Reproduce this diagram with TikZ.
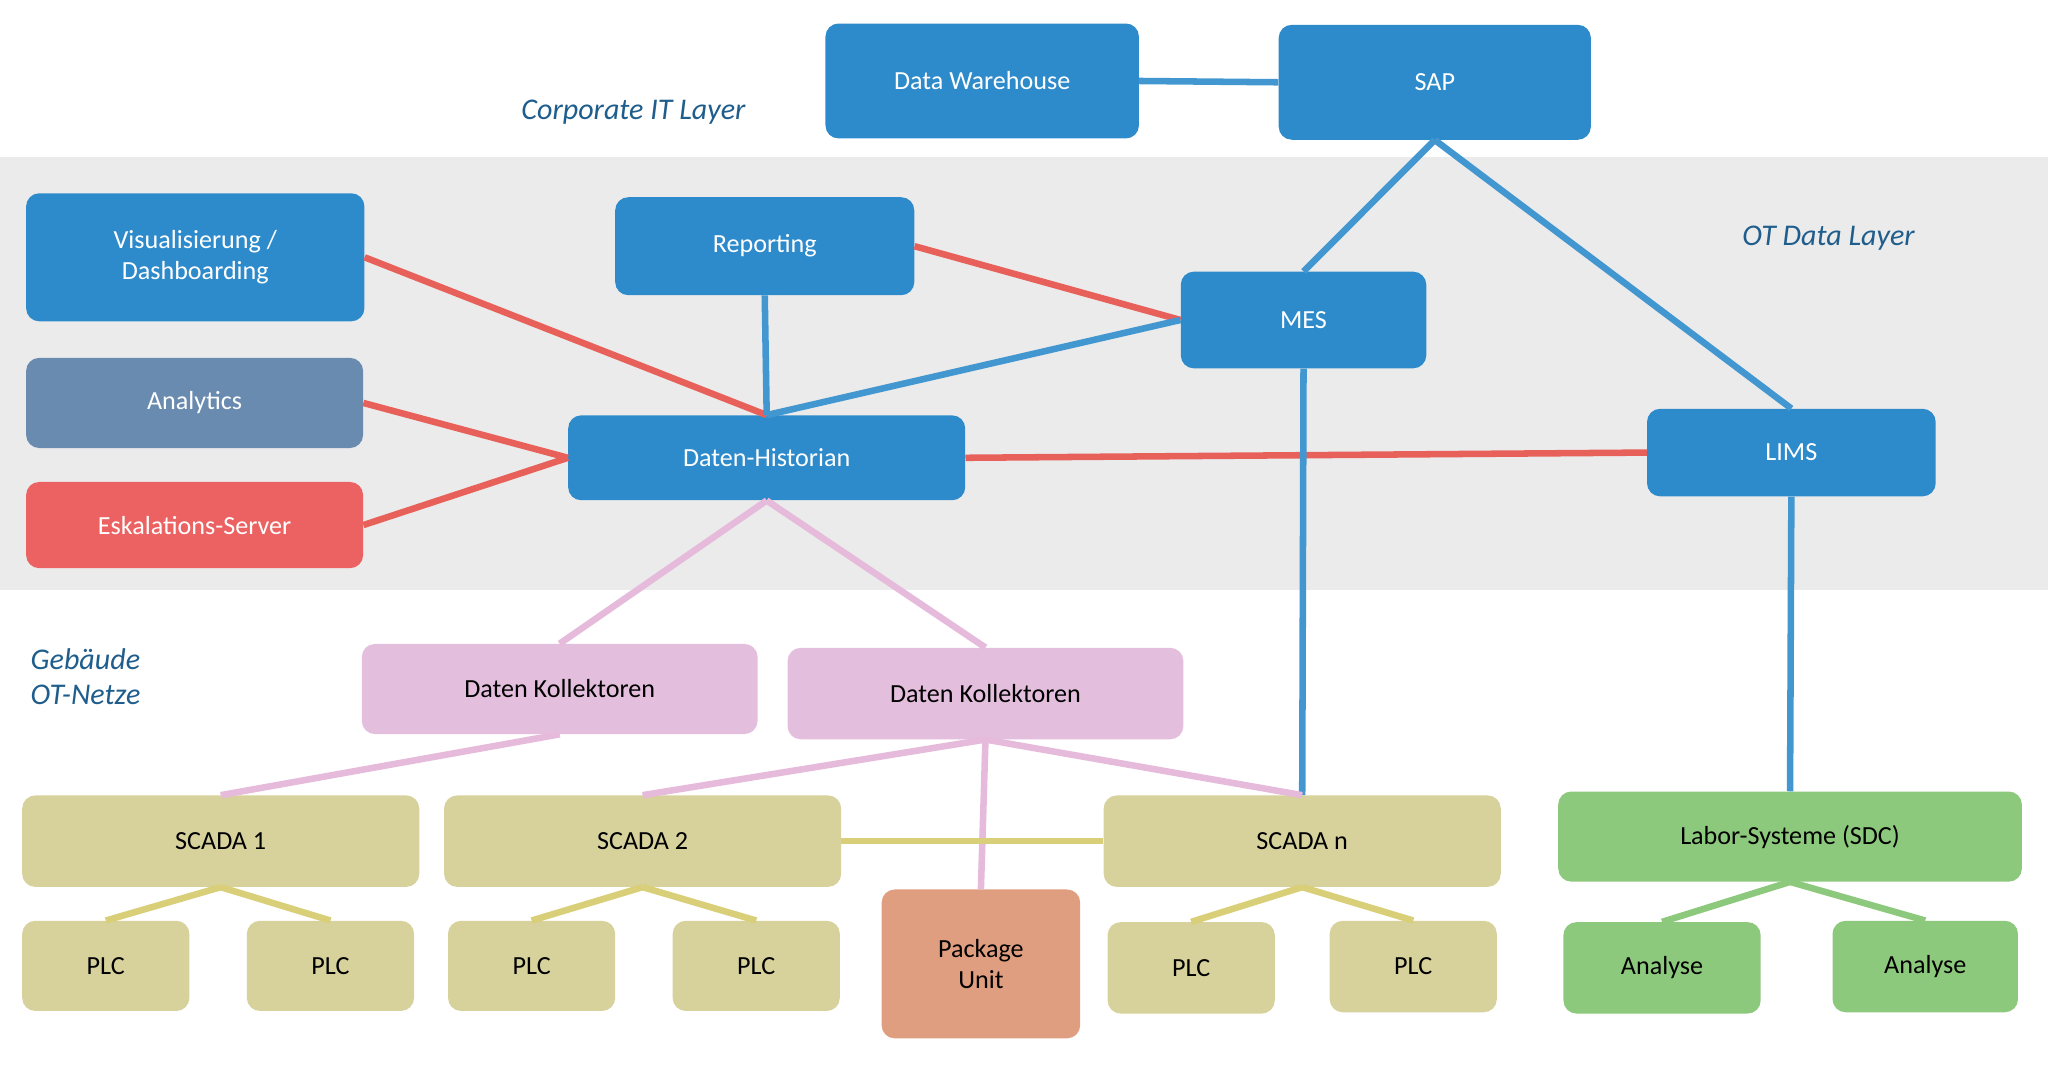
\documentclass[tikz,border=0pt]{standalone}
\usepackage{fontspec}
\setmainfont{Carlito}
\definecolor{bl}{HTML}{2E8BCB}
\definecolor{band}{HTML}{EBEBEB}
\definecolor{ana}{HTML}{6A8BB0}
\definecolor{rd}{HTML}{EC6262}
\definecolor{pk}{HTML}{E4BFDD}
\definecolor{ol}{HTML}{D7D19C}
\definecolor{pu}{HTML}{DF9E80}
\definecolor{gr}{HTML}{8DC97C}
\definecolor{lbl}{HTML}{1F5E8C}
\definecolor{lrd}{HTML}{E8605A}
\definecolor{lpk}{HTML}{E6BADB}
\definecolor{lol}{HTML}{D9CF78}
\begin{document}
\begin{tikzpicture}[x=1pt,y=-1pt,
 bx/.style={rounded corners=10pt,inner sep=0pt,font=\fontsize{20}{24}\selectfont,align=center},
 bb/.style={bx,fill=bl,text=white},
 lay/.style={text=lbl,font=\fontsize{23}{27}\selectfont\itshape,align=left},
 cb/.style={line width=5pt,bl!90!white},
 cr/.style={line width=5pt,lrd},
 cp/.style={line width=5pt,lpk},
 co/.style={line width=5pt,lol},
 cg/.style={line width=5pt,gr}]
\useasboundingbox (0,0) rectangle (1568,821);
\fill[white] (0,0) rectangle (1568,821);
\fill[band] (0,120) rectangle (1568,452);
\def\bxn#1#2#3#4#5#6#7{\node[#1,minimum width=#4-#2,minimum height=#5-#3] (#6) at ({(#2+#4)/2},{(#3+#5)/2}) {#7};}
% connectors first (drawn under boxes via layering order: nodes later)
\bxn{bb}{632}{18}{872}{106}{dw}{Data Warehouse}
\bxn{bb}{979}{19}{1218}{107}{sap}{SAP}
\bxn{bb}{20}{148}{279}{246}{vis}{Visualisierung /\\Dashboarding}
\bxn{bb}{471}{151}{700}{226}{rep}{Reporting}
\bxn{bb}{904}{208}{1092}{282}{mes}{MES}
\bxn{bx,fill=ana,text=white}{20}{274}{278}{343}{ana}{Analytics}
\bxn{bb}{435}{318}{739}{383}{his}{Daten-Historian}
\bxn{bb}{1261}{313}{1482}{380}{lims}{LIMS}
\bxn{bx,fill=rd,text=white}{20}{369}{278}{435}{esk}{Eskalations-Server}
\bxn{bx,fill=pk}{277}{493}{580}{562}{dk1}{Daten Kollektoren}
\bxn{bx,fill=pk}{603}{496}{906}{566}{dk2}{Daten Kollektoren}
\bxn{bx,fill=ol}{17}{609}{321}{679}{s1}{SCADA 1}
\bxn{bx,fill=ol}{340}{609}{644}{679}{s2}{SCADA 2}
\bxn{bx,fill=ol}{845}{609}{1149}{679}{sn}{SCADA n}
\bxn{bx,fill=gr}{1193}{606}{1548}{675}{lab}{Labor-Systeme (SDC)}
\bxn{bx,fill=ol}{17}{705}{145}{774}{p1}{PLC}
\bxn{bx,fill=ol}{189}{705}{317}{774}{p2}{PLC}
\bxn{bx,fill=ol}{343}{705}{471}{774}{p3}{PLC}
\bxn{bx,fill=ol}{515}{705}{643}{774}{p4}{PLC}
\bxn{bx,fill=ol}{848}{706}{976}{776}{p5}{PLC}
\bxn{bx,fill=ol}{1018}{705}{1146}{775}{p6}{PLC}
\bxn{bx,fill=pu}{675}{681}{827}{795}{pu}{Package\\Unit}
\bxn{bx,fill=gr}{1197}{706}{1348}{776}{a1}{Analyse}
\bxn{bx,fill=gr}{1403}{705}{1545}{775}{a2}{Analyse}
\node[lay] (l1) at (485,86) {Corporate IT Layer};
\node[lay] (l2) at (1400,182) {OT Data Layer};
\node[lay,anchor=west] (l3) at (20,518) {Gebäude\\OT-Netze};
\begin{scope}[on background layer/.style={}]
\end{scope}
% connectors
\draw[cb] (dw.east) -- (sap.west);
\draw[cb] (sap.south) -- (mes.north);
\draw[cb] (sap.south) -- (lims.north);
\draw[cr] (vis.east) -- (his.north);
\draw[cr] (rep.east) -- (mes.west);
\draw[cb] (rep.south) -- (his.north);
\draw[cb] (his.north) -- (mes.west);
\draw[cr] (ana.east) -- (his.west);
\draw[cr] (esk.east) -- (his.west);
\draw[cr] (his.east) -- (lims.west);
\draw[cb] (mes.south) -- (sn.north);
\draw[cb] (lims.south) -- (lab.north);
\draw[cp] (his.south) -- (dk1.north);
\draw[cp] (his.south) -- (dk2.north);
\draw[cp] (dk1.south) -- (s1.north);
\draw[cp] (dk2.south) -- (s2.north);
\draw[cp] (dk2.south) -- (sn.north);
\draw[cp] (dk2.south) -- (pu.north);
\draw[co] (s2.east) -- (sn.west);
\foreach \s/\a/\b in {s1/p1/p2,s2/p3/p4,sn/p5/p6}{
 \draw[co] (\s.south) -- (\a.north); \draw[co] (\s.south) -- (\b.north);}
\draw[cg] (lab.south) -- (a1.north);
\draw[cg] (lab.south) -- (a2.north);
\end{tikzpicture}
\end{document}
